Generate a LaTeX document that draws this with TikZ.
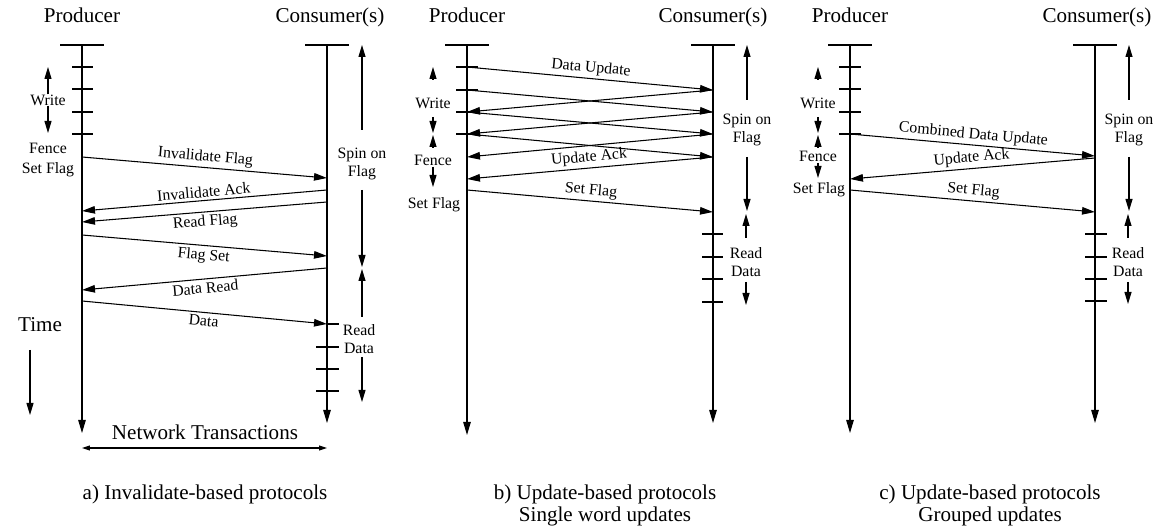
\documentclass[tikz,border=0pt]{standalone}
\usepackage{fontspec}
\setmainfont{Liberation Serif}
\usetikzlibrary{arrows.meta,positioning}
\tikzstyle{life} = [line width=0.6pt,-{Triangle[length=2.6mm,width=1.5mm]}]
\tikzstyle{msg} = [line width=0.6pt,-{Triangle[length=2.6mm,width=1.5mm]}]
\tikzstyle{span} = [line width=0.6pt,-{Triangle[length=2.4mm,width=1.4mm]}]
\tikzstyle{tick} = [line width=0.6pt]
\tikzstyle{head} = [font=\fontsize{12}{14}\selectfont,inner sep=0]
\tikzstyle{lbl} = [font=\fontsize{9}{10.2}\selectfont,inner sep=1.5pt]
\tikzstyle{note} = [font=\fontsize{9}{10.2}\selectfont,align=center,inner sep=0]
\tikzstyle{caption} = [font=\fontsize{12}{12.5}\selectfont,align=center,anchor=north,inner sep=0]

\begin{document}
\begin{tikzpicture}[x=0.02cm,y=-0.02cm]
\useasboundingbox (0,0) rectangle (1157,526);

% ---------- a) invalidate-based
\coordinate (pa) at (82,45);
\coordinate (pa end) at (82,433);
\coordinate (ca) at (327,45);
\coordinate (ca end) at (327,423);
\node[head,anchor=base] (proda) at (82,23) {Producer};
\node[head,anchor=base] (consa) at (330,23) {Consumer(s)};
\draw[tick] ([xshift=-.44cm]pa) -- +(44,0);
\draw[tick] ([xshift=-.44cm]ca) -- +(44,0);
\draw[life] (pa) -- (pa end);
\draw[life] (ca) -- (ca end);
\foreach \y in {67,89,112,134} \draw[tick] (72,\y) -- (93,\y);
\draw[tick] (327,324) -- (339,324);
\foreach \y in {347,369,391} \draw[tick] (316,\y) -- (339,\y);

\node[note] (wra) at (48,100) {Write};
\draw[span] (wra.north) -- (48,67);
\draw[span] (wra.south) -- (48,133);
\node[note] (fena) at (48,148) {Fence};
\node[note] (sfa) at (48,170) {Set Flag};

\coordinate (a1) at (82,157);  \coordinate (a1r) at (327,178);
\draw[msg] (a1) -- node[lbl,above,sloped] {Invalidate Flag} (a1r);
\coordinate (a2) at (327,190); \coordinate (a2r) at (82,211);
\draw[msg] (a2) -- node[lbl,above,sloped] {Invalidate Ack} (a2r);
\coordinate (a3) at (327,202); \coordinate (a3r) at (82,222);
\draw[msg] (a3) -- node[lbl,below,sloped] {Read Flag} (a3r);
\coordinate (a4) at (82,235);  \coordinate (a4r) at (327,256);
\draw[msg] (a4) -- node[lbl,below,sloped] {Flag Set} (a4r);
\coordinate (a5) at (327,268); \coordinate (a5r) at (82,290);
\draw[msg] (a5) -- node[lbl,below,sloped] {Data Read} (a5r);
\coordinate (a6) at (82,301);  \coordinate (a6r) at (327,324);
\draw[msg] (a6) -- node[lbl,below,sloped] {Data} (a6r);

\node[note] (spa) at (362,164) {Spin on\\Flag};
\draw[span] (362,130) -- (362,45);
\draw[span] (362,190) -- (362,267);
\node[note] (rda) at (359,339) {Read\\Data};
\draw[span] (362,317) -- (362,269);
\draw[span] (362,357) -- (362,402);

\node[head] (time) at (40,325) {Time};
\draw[span] (30,350) -- (30,415);
\node[head] (net) at (205,432) {Network Transactions};
\draw[line width=0.6pt,{Triangle[length=1.6mm,width=1mm]}-{Triangle[length=1.6mm,width=1mm]}] (82,448) -- (327,448);
\node[caption] (capa) at (205,485) {a) Invalidate-based protocols};

% ---------- b) update-based, single words
\coordinate (pb) at (467,45);
\coordinate (pb end) at (467,435);
\coordinate (cb) at (713,45);
\coordinate (cb end) at (713,423);
\node[head,anchor=base] (prodb) at (467,23) {Producer};
\node[head,anchor=base] (consb) at (713,23) {Consumer(s)};
\draw[tick] ([xshift=-.44cm]pb) -- +(44,0);
\draw[tick] ([xshift=-.44cm]cb) -- +(44,0);
\draw[life] (pb) -- (pb end);
\draw[life] (cb) -- (cb end);
\foreach \y in {67,90,112,134} \draw[tick] (456,\y) -- (478,\y);
\foreach \y in {234,257,279,302} \draw[tick] (702,\y) -- (723,\y);

\node[note] (wrb) at (433,103) {Write};
\draw[span] (433,80) -- (433,67);
\draw[span] (433,117) -- (433,133);
\node[note] (fenb) at (433,160) {Fence};
\draw[span] (433,148) -- (433,135);
\draw[span] (433,167) -- (433,187);
\node[note] (sfb) at (434,205) {Set Flag};

% data updates
\coordinate (b1) at (467,67);  \coordinate (b1r) at (713,90);
\draw[msg] (b1) -- node[lbl,above,sloped] {Data Update} (b1r);
\coordinate (b2) at (467,90);  \coordinate (b2r) at (713,112);
\draw[msg] (b2) -- (b2r);
\coordinate (b3) at (467,112); \coordinate (b3r) at (713,134);
\draw[msg] (b3) -- (b3r);
\coordinate (b4) at (467,134); \coordinate (b4r) at (713,157);
\draw[msg] (b4) -- (b4r);
% acks
\draw[msg] (b1r) -- (b3);
\draw[msg] (b2r) -- (b4);
\coordinate (b5) at (467,157);
\draw[msg] (b3r) -- (b5);
\coordinate (b6) at (467,179);
\draw[msg] (b4r) -- node[lbl,above,sloped] {Update Ack} (b6);
\coordinate (b7) at (467,190); \coordinate (b7r) at (713,212);
\draw[msg] (b7) -- node[lbl,above,sloped] {Set Flag} (b7r);

\node[note] (spb) at (747,130) {Spin on\\Flag};
\draw[span] (747,100) -- (747,45);
\draw[span] (747,157) -- (747,211);
\node[note] (rdb) at (746,262) {Read\\Data};
\draw[span] (746,238) -- (746,214);
\draw[span] (746,282) -- (746,305);
\node[caption] (capb) at (605,485) {b) Update-based protocols\\Single word updates};

% ---------- c) update-based, grouped
\coordinate (pc) at (850,45);
\coordinate (pc end) at (850,433);
\coordinate (cc) at (1095,45);
\coordinate (cc end) at (1095,423);
\node[head,anchor=base] (prodc) at (850,23) {Producer};
\node[head,anchor=base] (consc) at (1097,23) {Consumer(s)};
\draw[tick] ([xshift=-.44cm]pc) -- +(44,0);
\draw[tick] ([xshift=-.44cm]cc) -- +(44,0);
\draw[life] (pc) -- (pc end);
\draw[life] (cc) -- (cc end);
\foreach \y in {67,89,112,134} \draw[tick] (839,\y) -- (861,\y);
\foreach \y in {234,257,279,301} \draw[tick] (1085,\y) -- (1107,\y);

\node[note] (wrc) at (818,103) {Write};
\draw[span] (818,80) -- (818,67);
\draw[span] (818,117) -- (818,133);
\node[note] (fenc) at (818,156) {Fence};
\draw[span] (818,147) -- (818,135);
\draw[span] (818,163) -- (818,178);
\node[note] (sfc) at (819,190) {Set Flag};

\coordinate (c1) at (850,134);  \coordinate (c1r) at (1095,156);
\draw[msg] (c1) -- node[lbl,above,sloped] {Combined Data Update} (c1r);
\coordinate (c2) at (1095,158); \coordinate (c2r) at (850,179);
\draw[msg] (c2) -- node[lbl,above,sloped] {Update Ack} (c2r);
\coordinate (c3) at (850,190);  \coordinate (c3r) at (1095,212);
\draw[msg] (c3) -- node[lbl,above,sloped] {Set Flag} (c3r);

\node[note] (spc) at (1129,130) {Spin on\\Flag};
\draw[span] (1129,100) -- (1129,45);
\draw[span] (1129,157) -- (1129,211);
\node[note] (rdc) at (1128,262) {Read\\Data};
\draw[span] (1128,238) -- (1128,214);
\draw[span] (1128,282) -- (1128,304);
\node[caption] (capc) at (990,485) {c) Update-based protocols\\Grouped updates};
\end{tikzpicture}
\end{document}
